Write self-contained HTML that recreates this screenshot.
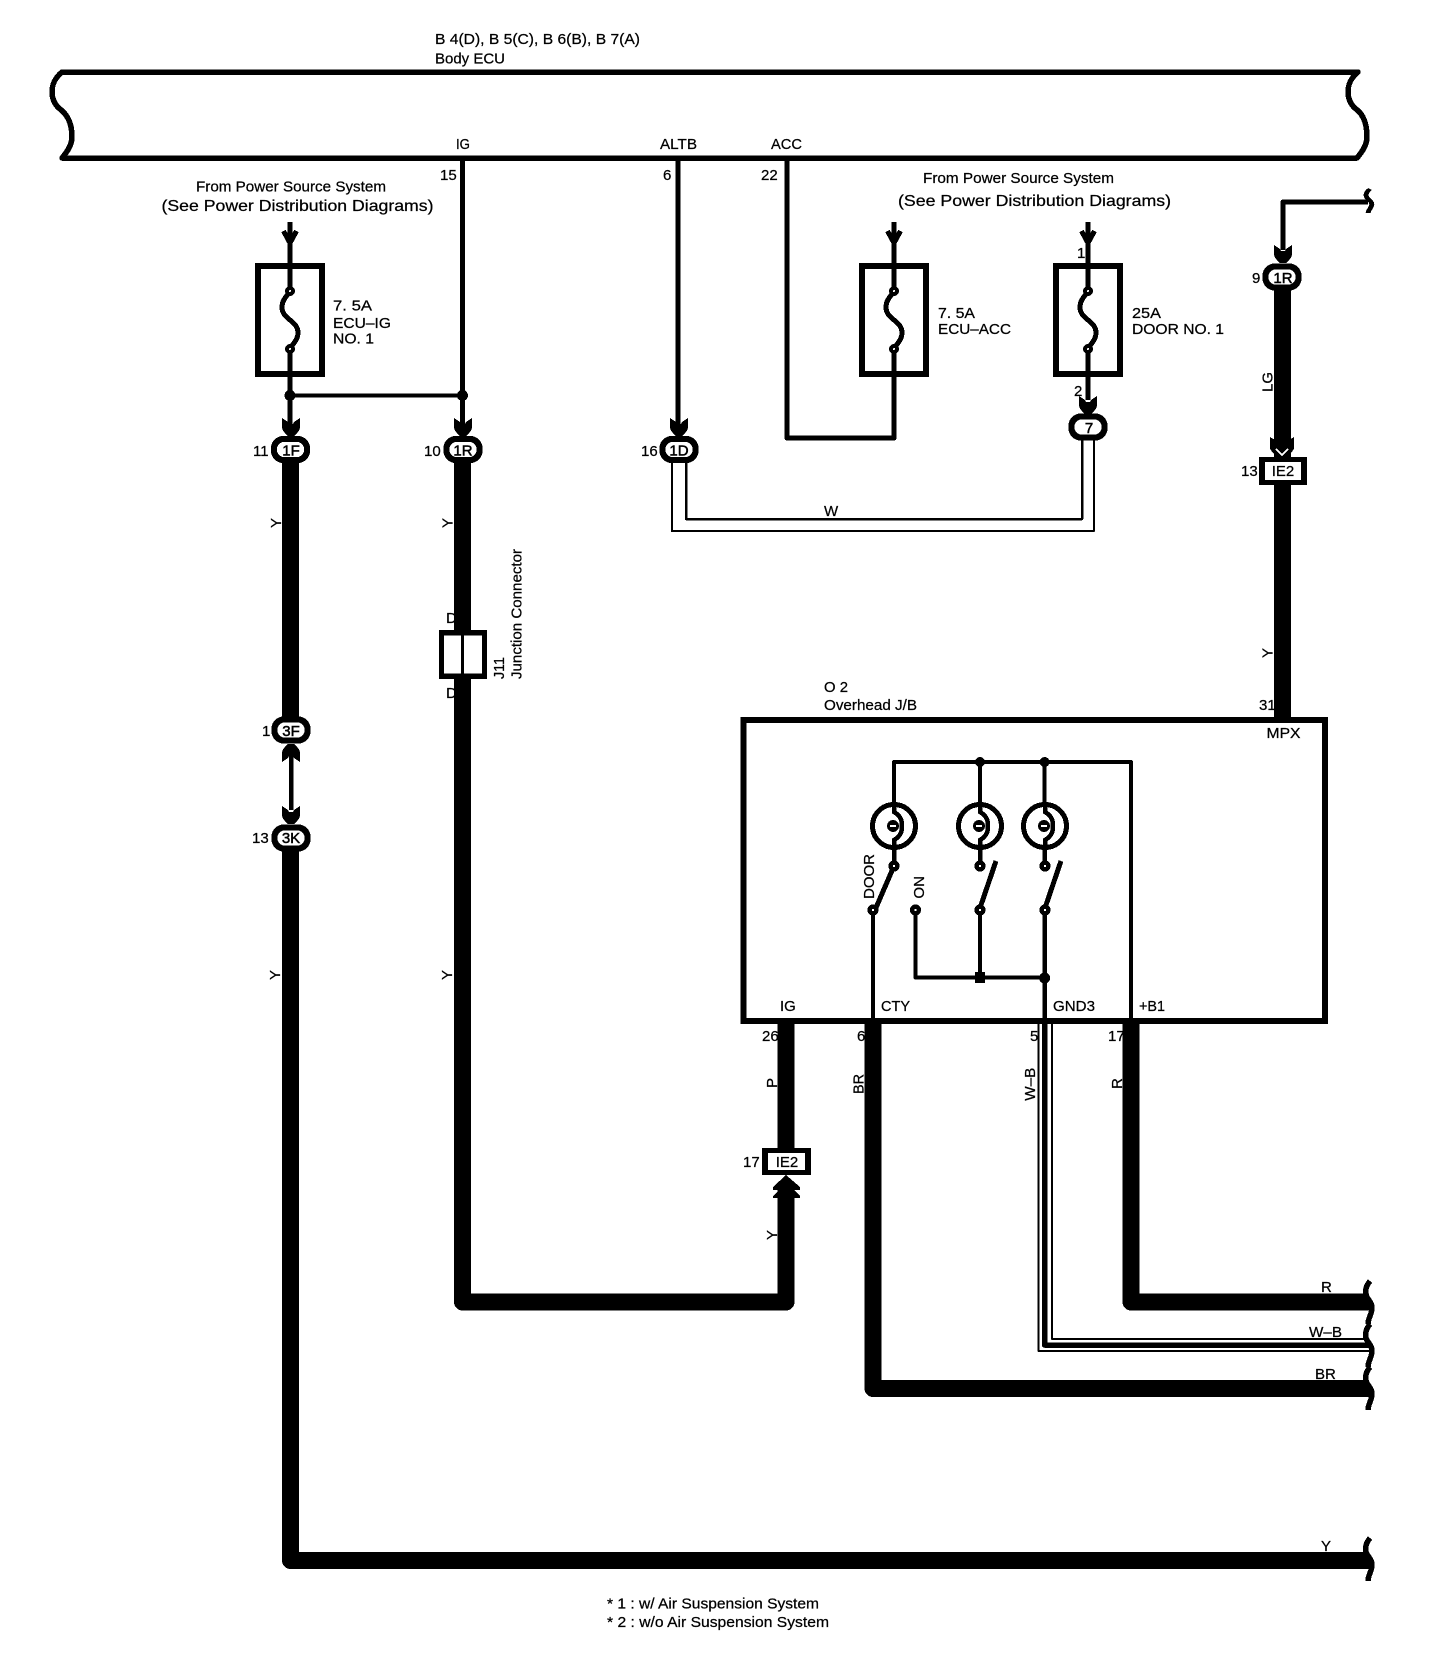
<!DOCTYPE html>
<html><head><meta charset="utf-8"><style>
html,body{margin:0;padding:0;background:#fff}
svg{display:block}
text{font-family:"Liberation Sans",sans-serif;font-size:15px;fill:#000;stroke:#000;stroke-width:.25}
.w{fill:none;stroke:#000;stroke-linejoin:round}
</style></head><body>
<svg width="1456" height="1664" viewBox="0 0 1456 1664" xmlns="http://www.w3.org/2000/svg">
<defs>
<path id="t" d="M-9,0 L-3,4 L-2,6 L2,6 L3,4 L9,0 L9,9 Q9,13 3,18 L-3,18 Q-9,13 -9,9 Z"/>
<path id="v" d="M-6.5,1 L0,13 L6.5,1" fill="none" stroke="#000" stroke-width="5"/>
<g id="c"><rect x="-19.5" y="-13.5" width="39" height="27" rx="12"/><rect x="-13.5" y="-7.5" width="27" height="15" rx="7" fill="#fff"/></g>
<g id="f"><rect x="-32" y="266" width="64" height="108" fill="none" stroke="#000" stroke-width="6"/>
<path d="M0,291 C-3,296 -8,300 -8,307 C-8,320 8,320 8,333 C8,340 3,343 0,349" fill="none" stroke="#000" stroke-width="5"/>
<circle cx="0" cy="291" r="3" fill="#fff" stroke="#000" stroke-width="4"/><circle cx="0" cy="349" r="3" fill="#fff" stroke="#000" stroke-width="4"/></g>
<g id="b"><circle cx="0" cy="0" r="21.5" fill="none" stroke="#000" stroke-width="5"/>
<path d="M0,-24 V-14 C7,-10 8,-5 8,0 C8,5 7,10 0,14 V24" fill="none" stroke="#000" stroke-width="4.5"/>
<circle cx="-1" cy="0" r="6"/><rect x="-4" y="-1" width="6" height="2" fill="#fff"/></g>
<g id="k"><circle cx="0" cy="0" r="3.3" fill="#fff" stroke="#000" stroke-width="4.5"/></g>
<path id="s" d="M0,0 C-4,5 -5,10 -4,14 C-3,18 2,21 2,27 C2,33 -2,37 -2,43" fill="none" stroke="#000" stroke-width="5.5"/>
</defs>

<!-- labels clipped by wires -->
<text x="446" y="623">D</text><text x="446" y="698">D</text>
<text x="762" y="1041">26</text><text x="857" y="1041">6</text><text x="1030" y="1041">5</text><text x="1108" y="1041">17</text>
<text x="1259" y="710">31</text>

<g shape-rendering="crispEdges">
<!-- ECU bar -->
<path class="w" stroke-width="5.5" d="M62,72 H1358 C1351,78 1348,84 1348,92 C1348,100 1352,106 1356,109 C1364,115 1367,125 1367,137 C1367,145 1362,152 1357,158 H62 C67,152 72,145 72,137 C72,125 68,115 60,109 C56,106 52,100 52,92 C52,84 55,78 62,72 Z"/>

<!-- thin wires -->
<path class="w" stroke-width="5" d="M290,222 V291 M290,349 V425"/>
<path class="w" stroke-width="5" d="M462.5,158 V425"/>
<path class="w" stroke-width="4" d="M290,395.5 H462.5"/>
<circle cx="290" cy="395.5" r="5.5"/><circle cx="462.5" cy="395.5" r="5.5"/>
<path class="w" stroke-width="5" d="M678,158 V425"/>
<path class="w" stroke-width="5" d="M787,158 V438 H894 V349 M894,291 V222"/>
<path class="w" stroke-width="5" d="M1088,222 V291 M1088,349 V400"/>
<path class="w" stroke-width="5" d="M1368,202 H1283 V250"/>
<use href="#s" transform="translate(1370,189) scale(.9,.56)"/>

<!-- fuses -->
<use href="#f" x="290"/><use href="#f" x="894"/><use href="#f" x="1088"/>

<!-- source arrows -->
<use href="#v" transform="translate(290,230)"/>
<use href="#v" transform="translate(894,230)"/>
<use href="#v" transform="translate(1088,230)"/>

<!-- W double wire -->
<path class="w" stroke-width="2.5" d="M686,460 V519 H1082 V440"/>
<path class="w" stroke-width="2" d="M672,460 V531 H1094 V440"/>

<!-- thick wires -->
<path class="w" stroke-width="17" d="M290.5,449 V730"/>
<path class="w" stroke-width="4.5" d="M291,755 V810"/>
<path class="w" stroke-width="17" d="M290.5,838 V1560.5 H1369"/>
<path class="w" stroke-width="17" d="M462.5,449 V1302 H786 V1190"/>
<path class="w" stroke-width="17" d="M786,1160 V1023"/>
<path class="w" stroke-width="17" d="M1282.5,277 V721"/>
<path class="w" stroke-width="17" d="M873,1020 V1388.5 H1369"/>
<path class="w" stroke-width="17" d="M1131,1020 V1302 H1369"/>
<path class="w" stroke-width="1.8" d="M1038.5,1024 V1351 H1369"/>
<path class="w" stroke-width="5.5" d="M1044.6,1022 V1345 H1369"/>
<path class="w" stroke-width="1.8" d="M1052,1024 V1339 H1369"/>

<!-- tulips -->
<use href="#t" transform="translate(291,418)"/>
<use href="#t" transform="translate(463,418)"/>
<use href="#t" transform="translate(679,418)"/>
<use href="#t" transform="translate(1088,396)"/>
<use href="#t" transform="translate(1283,245)"/>
<use href="#t" transform="translate(1282,437) scale(1.35,1.1)"/>
<path d="M1276,449 L1282,455 L1288,449" fill="none" stroke="#fff" stroke-width="1.5"/>
<use href="#t" transform="translate(291,762) scale(1,-1)"/>
<use href="#t" transform="translate(291,806)"/>
<path d="M773,1187 L786,1175 L800,1187 V1190 L794,1190 L800,1196 V1198 H773 V1196 L779,1190 L773,1190 Z"/>

<!-- connectors -->
<use href="#c" x="290.5" y="449.5"/><use href="#c" x="463" y="449.5"/><use href="#c" x="679" y="449.5"/>
<use href="#c" x="1088" y="427"/><use href="#c" x="1282" y="277"/>
<use href="#c" x="291" y="730"/><use href="#c" x="291" y="838"/>

<!-- IE2 boxes -->
<rect x="1259" y="457" width="48" height="28"/><rect x="1265" y="462" width="36" height="18" fill="#fff"/>
<rect x="762" y="1148" width="49" height="27"/><rect x="768" y="1153" width="37" height="17" fill="#fff"/>

<!-- J11 -->
<rect x="439" y="630" width="48" height="49"/>
<rect x="444" y="635.5" width="17" height="38" fill="#fff"/><rect x="464" y="635.5" width="18" height="38" fill="#fff"/>

<!-- J/B -->
<rect x="743.5" y="720" width="581.5" height="301" fill="none" stroke="#000" stroke-width="6"/>
<path class="w" stroke-width="4" d="M894,802 V762 H1131 V1024"/>
<path class="w" stroke-width="4" d="M980,762 V802 M1044.6,762 V802"/>
<circle cx="980" cy="762" r="5"/><circle cx="1044.6" cy="762" r="5"/>
<use href="#b" x="894" y="826"/><use href="#b" x="980" y="826"/><use href="#b" x="1045" y="826"/>
<path class="w" stroke-width="4.5" d="M894,850 V862 M980,850 V862 M1044.6,850 V862"/>
<path class="w" stroke-width="4" d="M873,910 V1024"/>
<path class="w" stroke-width="4" d="M915.5,910 V977.5 H1044.6"/>
<path class="w" stroke-width="4" d="M980,910 V977.5"/>
<path class="w" stroke-width="4.5" d="M1044.6,910 V1022"/>
<rect x="975" y="972" width="10" height="11"/><circle cx="1044.6" cy="978" r="5.5"/>
<path class="w" stroke-width="5" d="M894,866 L875,910 M980,908 L996,861 M1045,908 L1061,861"/>
<use href="#k" x="894" y="866"/><use href="#k" x="980" y="866"/><use href="#k" x="1045" y="866"/>
<use href="#k" x="873" y="910"/><use href="#k" x="915.5" y="910"/><use href="#k" x="980" y="910"/><use href="#k" x="1045" y="910"/>

<!-- wavy ends -->
<use href="#s" transform="translate(1370,1281)"/>
<use href="#s" transform="translate(1370,1324)"/>
<use href="#s" transform="translate(1370,1367)"/>
<use href="#s" transform="translate(1370,1538)"/>
</g>

<!-- text -->
<text x="435" y="44" textLength="205" lengthAdjust="spacingAndGlyphs">B 4(D), B 5(C), B 6(B), B 7(A)</text>
<text x="435" y="63.5" textLength="70" lengthAdjust="spacingAndGlyphs">Body ECU</text>
<text x="456" y="149" textLength="14" lengthAdjust="spacingAndGlyphs">IG</text>
<text x="660" y="149" textLength="37" lengthAdjust="spacingAndGlyphs">ALTB</text>
<text x="771" y="149" textLength="31" lengthAdjust="spacingAndGlyphs">ACC</text>
<text x="440" y="180">15</text><text x="663" y="180">6</text><text x="761" y="180">22</text>
<text x="196" y="191.5" textLength="190" lengthAdjust="spacingAndGlyphs">From Power Source System</text>
<text x="161.5" y="211" textLength="272" lengthAdjust="spacingAndGlyphs" style="font-size:16px">(See Power Distribution Diagrams)</text>
<text x="923" y="183" textLength="191" lengthAdjust="spacingAndGlyphs">From Power Source System</text>
<text x="898" y="206" textLength="273" lengthAdjust="spacingAndGlyphs" style="font-size:16px">(See Power Distribution Diagrams)</text>
<text x="333" y="310.5" textLength="39" lengthAdjust="spacingAndGlyphs">7. 5A</text>
<text x="333" y="328" textLength="58" lengthAdjust="spacingAndGlyphs">ECU–IG</text>
<text x="333" y="343.6" textLength="41" lengthAdjust="spacingAndGlyphs">NO. 1</text>
<text x="938" y="318" textLength="37" lengthAdjust="spacingAndGlyphs">7. 5A</text>
<text x="938" y="334" textLength="73" lengthAdjust="spacingAndGlyphs">ECU–ACC</text>
<text x="1132" y="318" textLength="29" lengthAdjust="spacingAndGlyphs">25A</text>
<text x="1132" y="334" textLength="92" lengthAdjust="spacingAndGlyphs">DOOR NO. 1</text>
<text x="253" y="456">11</text><text x="424" y="456">10</text><text x="641" y="456">16</text>
<text x="291" y="455.5" text-anchor="middle" style="stroke-width:.5">1F</text>
<text x="463" y="455.5" text-anchor="middle" style="stroke-width:.5">1R</text>
<text x="679" y="455.5" text-anchor="middle" style="stroke-width:.5">1D</text>
<text x="1077" y="258">1</text><text x="1074" y="396">2</text>
<text x="1089" y="433" text-anchor="middle" style="stroke-width:.5">7</text>
<text x="1252" y="283">9</text>
<text x="1283" y="283" text-anchor="middle" style="stroke-width:.5">1R</text>
<text x="1241" y="476">13</text>
<text x="1283" y="476" text-anchor="middle">IE2</text>
<text x="824" y="516">W</text>
<text x="262" y="736">1</text><text x="291" y="736" text-anchor="middle" style="stroke-width:.5">3F</text>
<text x="252" y="843">13</text><text x="291" y="843" text-anchor="middle" style="stroke-width:.5">3K</text>
<text x="824" y="692" textLength="24" lengthAdjust="spacingAndGlyphs">O 2</text>
<text x="824" y="710" textLength="93" lengthAdjust="spacingAndGlyphs">Overhead J/B</text>
<text x="1266.5" y="738" textLength="34" lengthAdjust="spacingAndGlyphs">MPX</text>
<text x="780" y="1011">IG</text><text x="881" y="1011" textLength="29" lengthAdjust="spacingAndGlyphs">CTY</text>
<text x="1053" y="1011" textLength="42" lengthAdjust="spacingAndGlyphs">GND3</text><text x="1139" y="1011" textLength="26" lengthAdjust="spacingAndGlyphs">+B1</text>
<text x="743" y="1167">17</text><text x="787" y="1167" text-anchor="middle">IE2</text>
<text x="1321" y="1292">R</text><text x="1309" y="1337" textLength="33" lengthAdjust="spacingAndGlyphs">W–B</text>
<text x="1315" y="1379">BR</text><text x="1321" y="1551">Y</text>
<text x="607" y="1608.5" textLength="212" lengthAdjust="spacingAndGlyphs">* 1 : w/ Air Suspension System</text>
<text x="607" y="1627" textLength="222" lengthAdjust="spacingAndGlyphs">* 2 : w/o Air Suspension System</text>
<!-- rotated -->
<text transform="translate(281,528) rotate(-90)">Y</text>
<text transform="translate(452.5,528) rotate(-90)">Y</text>
<text transform="translate(280,980) rotate(-90)">Y</text>
<text transform="translate(452,980) rotate(-90)">Y</text>
<text transform="translate(777,1240) rotate(-90)">Y</text>
<text transform="translate(1272.6,392) rotate(-90)">LG</text>
<text transform="translate(1272.6,658) rotate(-90)">Y</text>
<text transform="translate(521.5,679) rotate(-90)" textLength="130" lengthAdjust="spacingAndGlyphs">Junction Connector</text>
<text transform="translate(504,679) rotate(-90)" textLength="22" lengthAdjust="spacingAndGlyphs">J11</text>
<text transform="translate(874,899) rotate(-90)" textLength="45" lengthAdjust="spacingAndGlyphs">DOOR</text>
<text transform="translate(924,898.6) rotate(-90)">ON</text>
<text transform="translate(777,1088) rotate(-90)">P</text>
<text transform="translate(863.6,1094) rotate(-90)" textLength="20" lengthAdjust="spacingAndGlyphs">BR</text>
<text transform="translate(1035,1100.7) rotate(-90)" textLength="33" lengthAdjust="spacingAndGlyphs">W–B</text>
<text transform="translate(1122,1089) rotate(-90)">R</text>
</svg>
</body></html>
